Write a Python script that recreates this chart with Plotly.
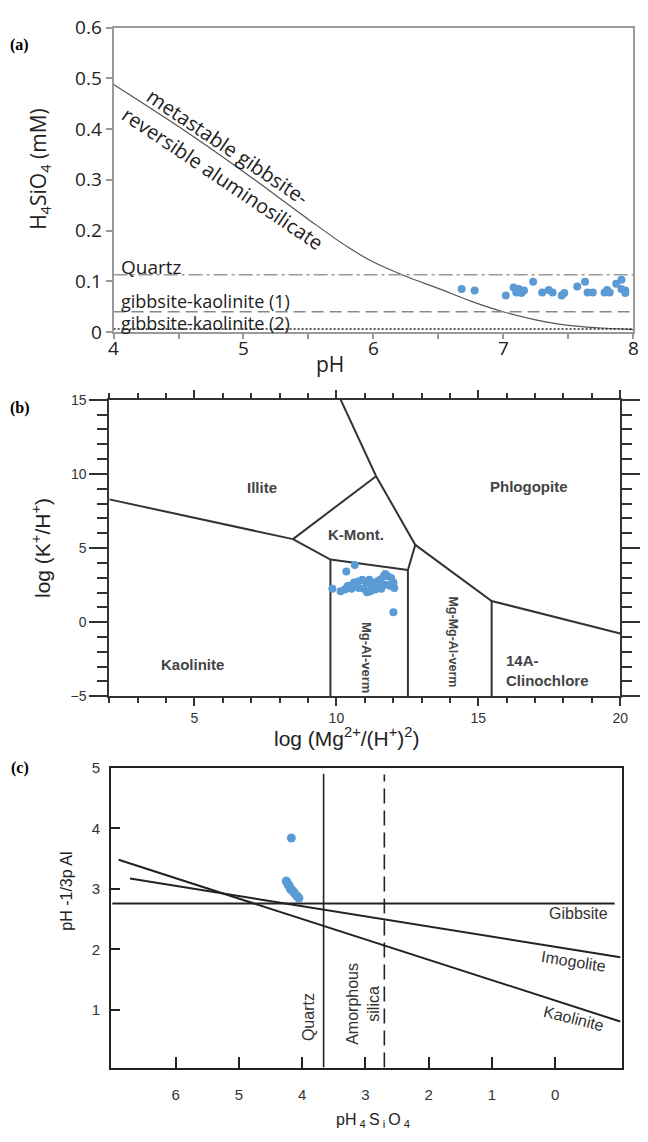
import plotly.graph_objects as go

W, H = 648, 1142

# ---------------- (a) H4SiO4 (mM) against pH ----------------
curve_ph = [4.0, 4.5, 5.0, 5.5, 5.8, 6.0, 6.25, 6.5, 6.75, 7.0, 7.25, 7.5, 7.75, 8.0]
curve_si = [0.488, 0.405, 0.316, 0.222, 0.168, 0.138, 0.110, 0.086, 0.061, 0.040, 0.024, 0.013, 0.008, 0.005]

quartz_si = 0.113
gk1_si = 0.040
gk2_si = 0.006

ph_ticks = [4, 5, 6, 7, 8]

samples_a_ph = [6.68, 6.78, 7.02, 7.08, 7.12, 7.14, 7.16, 7.10, 7.23, 7.30, 7.35, 7.38, 7.45,
                7.47, 7.57, 7.63, 7.65, 7.69, 7.78, 7.80, 7.82, 7.87, 7.91, 7.91, 7.94, 7.94]
samples_a_si = [0.085, 0.082, 0.072, 0.088, 0.085, 0.077, 0.082, 0.078, 0.099, 0.078, 0.083, 0.078, 0.072,
                0.077, 0.090, 0.099, 0.078, 0.078, 0.078, 0.083, 0.078, 0.095, 0.103, 0.085, 0.077, 0.082]

# ---------------- (b) log(K+/H+) against log(Mg2+/(H+)2) ----------------
kao_illite_x = [2.0, 8.47]
kao_illite_y = [8.28, 5.60]
illite_kmont_x = [8.47, 11.40]
illite_kmont_y = [5.60, 9.84]
kao_kmont_x = [8.47, 9.79, 12.52]
kao_kmont_y = [5.60, 4.22, 3.52]
kao_verm_x = [9.79, 9.79]
kao_verm_y = [4.22, -5.0]
phlog_left_x = [10.15, 11.40, 12.78, 12.52]
phlog_left_y = [15.0, 9.84, 5.21, 3.52]
verm_mgverm_x = [12.52, 12.52]
verm_mgverm_y = [3.52, -5.0]
phlog_mgverm_x = [12.78, 15.47, 20.0]
phlog_mgverm_y = [5.21, 1.43, -0.76]
mgverm_chl_x = [15.47, 15.47]
mgverm_chl_y = [1.43, -5.0]

samples_b_mg = [10.65, 10.35, 9.86, 10.15, 10.30, 10.44, 10.62, 10.77, 10.91, 11.05, 11.16, 11.28,
                11.43, 11.54, 11.66, 11.72, 11.81, 11.93, 12.01, 12.04, 11.89, 11.74, 11.58, 11.37,
                11.20, 11.08, 10.96, 10.79, 10.67, 10.53, 10.39, 12.01, 11.23, 11.48]
samples_b_k = [3.85, 3.41, 2.25, 2.09, 2.20, 2.46, 2.68, 2.75, 2.86, 2.68, 2.86, 2.64,
               2.75, 2.86, 3.08, 3.25, 3.12, 2.97, 2.68, 2.31, 2.46, 2.53, 2.25, 2.20,
               2.09, 2.02, 2.25, 2.31, 2.42, 2.25, 2.42, 0.67, 2.46, 2.53]

# ---------------- (c) pH - 1/3 pAl against pH4SiO4 ----------------
gibbsite_x = [7.0, -0.94]
gibbsite_y = [2.76, 2.76]
imogolite_x = [6.72, -1.03]
imogolite_y = [3.17, 1.87]
kaolinite_x = [6.90, -1.03]
kaolinite_y = [3.48, 0.81]
quartz_x = 3.66
amorph_x = 2.70

samples_c_si = [4.17, 4.25, 4.24, 4.22, 4.21, 4.19, 4.18, 4.15, 4.13, 4.12, 4.09, 4.07, 4.05]
samples_c_al = [3.84, 3.13, 3.11, 3.07, 3.06, 3.02, 2.99, 2.97, 2.94, 2.93, 2.89, 2.87, 2.85]

BLUE = "rgb(91,155,213)"
SANS_A = "Open Sans"
SANS = "Liberation Sans"

fig = go.Figure()

# ---- traces (a)
fig.add_trace(go.Scatter(x=curve_ph, y=curve_si, mode="lines", line=dict(color="#555", width=1.2, shape="spline"),
                         xaxis="x", yaxis="y", showlegend=False, hoverinfo="skip"))
for yv, dash, col in [(quartz_si, "14px,4px,3px,4px", "#999"), (gk1_si, "12px,6px", "#888"),
                      (gk2_si, "2px,2px", "#222")]:
    fig.add_trace(go.Scatter(x=[4, 8], y=[yv, yv], mode="lines", line=dict(color=col, width=1.5, dash=dash),
                             xaxis="x", yaxis="y", showlegend=False, hoverinfo="skip"))
fig.add_trace(go.Scatter(x=samples_a_ph, y=samples_a_si, mode="markers", marker=dict(color=BLUE, size=8),
                         xaxis="x", yaxis="y", showlegend=False))

# ---- traces (b)
for bx, by in [(kao_illite_x, kao_illite_y), (illite_kmont_x, illite_kmont_y), (kao_kmont_x, kao_kmont_y),
               (kao_verm_x, kao_verm_y), (phlog_left_x, phlog_left_y), (verm_mgverm_x, verm_mgverm_y),
               (phlog_mgverm_x, phlog_mgverm_y), (mgverm_chl_x, mgverm_chl_y)]:
    fig.add_trace(go.Scatter(x=bx, y=by, mode="lines", line=dict(color="#333", width=2),
                             xaxis="x2", yaxis="y2", showlegend=False, hoverinfo="skip"))
fig.add_trace(go.Scatter(x=samples_b_mg, y=samples_b_k, mode="markers", marker=dict(color=BLUE, size=8),
                         xaxis="x2", yaxis="y2", showlegend=False))

# ---- traces (c)
for lx, ly in [(gibbsite_x, gibbsite_y), (imogolite_x, imogolite_y), (kaolinite_x, kaolinite_y)]:
    fig.add_trace(go.Scatter(x=lx, y=ly, mode="lines", line=dict(color="#222", width=2),
                             xaxis="x3", yaxis="y3", showlegend=False, hoverinfo="skip"))
fig.add_trace(go.Scatter(x=[quartz_x, quartz_x], y=[0.05, 4.90], mode="lines", line=dict(color="#222", width=1.6),
                         xaxis="x3", yaxis="y3", showlegend=False, hoverinfo="skip"))
fig.add_trace(go.Scatter(x=[amorph_x, amorph_x], y=[0.05, 4.89], mode="lines",
                         line=dict(color="#222", width=1.6, dash="15px,7px"),
                         xaxis="x3", yaxis="y3", showlegend=False, hoverinfo="skip"))
fig.add_trace(go.Scatter(x=samples_c_si, y=samples_c_al, mode="markers", marker=dict(color=BLUE, size=9),
                         xaxis="x3", yaxis="y3", showlegend=False))

# ---- axes
fig.update_layout(
    width=W, height=H, margin=dict(l=0, r=0, t=0, b=0),
    paper_bgcolor="white", plot_bgcolor="white",
    xaxis=dict(domain=[0.1775, 0.9892], anchor="y", range=[4, 8], tickvals=ph_ticks, showticklabels=False,
               showgrid=False, zeroline=False, showline=True, linecolor="#999", linewidth=2, mirror=True,
               ticks="outside", ticklen=5, tickcolor="#999", tickwidth=1.5,
               minor=dict(dtick=0.5, ticks="outside", ticklen=5, tickcolor="#999")),
    yaxis=dict(domain=[0.7141, 0.9869], anchor="x", range=[0, 0.6], dtick=0.1,
               showgrid=False, zeroline=False, showline=True, linecolor="#999", linewidth=2, mirror=True,
               ticks="outside", ticklen=6, tickcolor="#999", tickwidth=1.5,
               tickfont=dict(family=SANS_A, size=19, color="#222")),
    xaxis2=dict(domain=[0.1708, 0.9691], anchor="y2", range=[2, 20], tickvals=[5, 10, 15, 20],
                showgrid=False, zeroline=False, showline=True, linecolor="#333", linewidth=2, mirror="allticks",
                ticks="outside", ticklen=8, tickcolor="#333", tickwidth=2,
                minor=dict(dtick=1, ticks="outside", ticklen=5, tickcolor="#333", tickwidth=2),
                tickfont=dict(family=SANS, size=14, color="#333")),
    yaxis2=dict(domain=[0.3877, 0.6535], anchor="x2", range=[-5, 15], tickvals=[-5, 0, 5, 10, 15],
                showgrid=False, zeroline=False, showline=True, linecolor="#333", linewidth=2, mirror="allticks",
                ticks="outside", ticklen=18, tickcolor="#333", tickwidth=2,
                minor=dict(dtick=1, ticks="outside", ticklen=10, tickcolor="#333", tickwidth=2),
                tickfont=dict(family=SANS, size=14, color="#333")),
    xaxis3=dict(domain=[0.1735, 0.9722], anchor="y3", range=[7.02, -1.06], tickvals=[0, 1, 2, 3, 4, 5, 6],
                showgrid=False, zeroline=False, showline=True, linecolor="#222", linewidth=2, mirror=True,
                ticks="inside", ticklen=11, tickcolor="#222", tickwidth=2, ticklabelstandoff=12,
                tickfont=dict(family=SANS, size=15, color="#333")),
    yaxis3=dict(domain=[0.0549, 0.3237], anchor="x3", range=[0.047, 5], tickvals=[1, 2, 3, 4, 5],
                showgrid=False, zeroline=False, showline=True, linecolor="#222", linewidth=2, mirror=True,
                ticks="inside", ticklen=9, tickcolor="#222", tickwidth=2, ticklabelstandoff=6,
                tickfont=dict(family=SANS, size=15, color="#333")),
)

ann = []


def paper_text(px, py, text, size, family, color="#222", angle=0, xanchor="center", **kw):
    ann.append(dict(x=px / W, y=1 - py / H, xref="paper", yref="paper", text=text, showarrow=False,
                    textangle=angle, xanchor=xanchor, yanchor="middle",
                    font=dict(family=family, size=size, color=color), **kw))


def data_text(ax, x, y, text, size, family, color="#222", angle=0, xanchor="center", yanchor="middle", **kw):
    ann.append(dict(x=x, y=y, xref=ax[0], yref=ax[1], text=text, showarrow=False,
                    textangle=angle, xanchor=xanchor, yanchor=yanchor,
                    font=dict(family=family, size=size, color=color), **kw))


# panel tags
paper_text(20, 33, "<b>(a)</b>", 16, "Liberation Serif", "#000")
paper_text(20, 404, "<b>(b)</b>", 16, "Liberation Serif", "#000")
paper_text(20, 773, "<b>(c)</b>", 16, "Liberation Serif", "#000")

# (a) titles, tick labels and line labels
paper_text(40, 160, "H<sub>4</sub>SiO<sub>4</sub> (mM)", 21, SANS_A, "#222", angle=-90)
paper_text(334, 359, "pH", 21, SANS_A, "#222")
A = ("x", "y")
for t in ph_ticks:
    ann.append(dict(x=t, y=1 - 343 / H, xref="x", yref="paper", text=str(t), showarrow=False,
                    xanchor="center", yanchor="middle", font=dict(family=SANS_A, size=19, color="#222")))
data_text(A, 4.875, 0.365, "metastable gibbsite-", 20, SANS_A, "#222", angle=34)
data_text(A, 4.84, 0.302, "reversible aluminosilicate", 20, SANS_A, "#222", angle=34)
data_text(A, 4.04, 0.128, "Quartz", 19, SANS_A, "#222", xanchor="left")
data_text(A, 4.04, 0.061, "gibbsite-kaolinite (1)", 18, SANS_A, "#222", xanchor="left")
data_text(A, 4.04, 0.017, "gibbsite-kaolinite (2)", 18, SANS_A, "#222", xanchor="left")

# (b) titles and labels
paper_text(41, 547, "log (K<sup>+</sup>/H<sup>+</sup>)", 21, SANS, "#222", angle=-90)
paper_text(351, 741, "log (Mg<sup>2+</sup>/(H<sup>+</sup>)<sup>2</sup>)", 21, SANS, "#222")
B = ("x2", "y2")
LB = "#444"
data_text(B, 7.37, 9.07, "<b>Illite</b>", 15, SANS, LB)
data_text(B, 16.77, 9.18, "<b>Phlogopite</b>", 15, SANS, LB)
data_text(B, 10.69, 5.93, "<b>K-Mont.</b>", 15, SANS, LB)
data_text(B, 4.94, -2.85, "<b>Kaolinite</b>", 15, SANS, LB)
data_text(B, 11.06, -2.44, "<b>Mg-Al-verm</b>", 13, SANS, LB, angle=90)
data_text(B, 14.12, -1.32, "<b>Mg-Mg-Al-verm</b>", 12.5, SANS, LB, angle=90)
data_text(B, 15.90, -3.29, "<b>14A-<br>Clinochlore</b>", 15, SANS, LB, xanchor="left", align="left")

# (c) titles and labels
paper_text(67, 899, "pH -1/3p Al", 16, SANS, "#222", angle=-90)
paper_text(378, 1133, "pH<sub> 4 </sub>S<sub> i </sub>O<sub> 4</sub>", 16, SANS, "#222")
C = ("x3", "y3")
data_text(C, -0.87, 2.60, "Gibbsite", 16, SANS, "#333", xanchor="right")
data_text(C, -0.29, 1.80, "Imogolite", 16, SANS, "#333", angle=9)
data_text(C, -0.29, 0.86, "Kaolinite", 16, SANS, "#333", angle=14)
data_text(C, 3.90, 0.89, "Quartz", 16, SANS, "#333", angle=-90)
data_text(C, 3.03, 1.11, "Amorphous<br>silica", 16, SANS, "#333", angle=-90)

fig.update_layout(annotations=ann)
fig.write_html("out.html")
